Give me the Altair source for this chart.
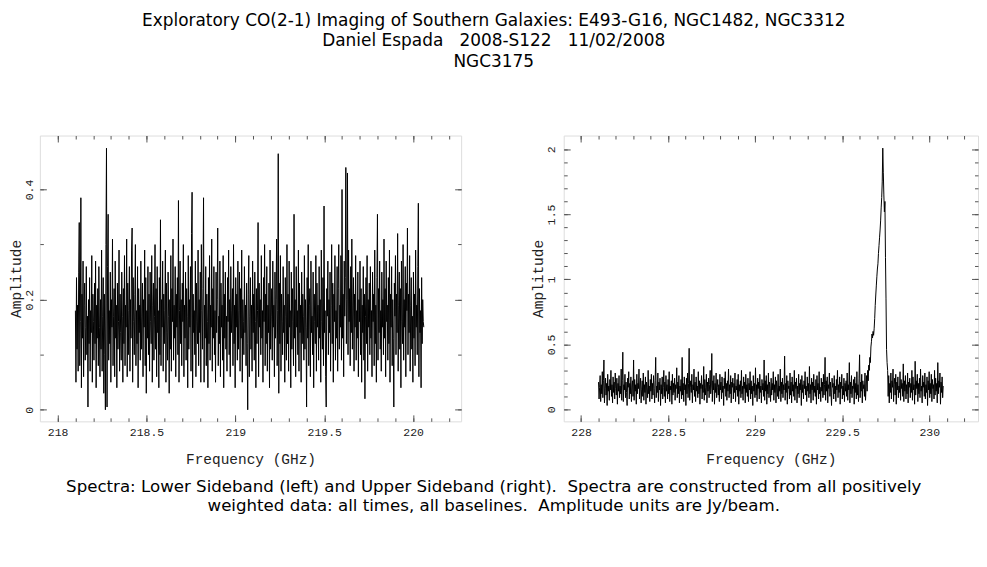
import altair as alt
import pandas as pd

# ---------------- data ----------------
LSB_START, LSB_END = 218.10, 220.06
USB_START, USB_END = 228.10, 230.08

lsb_amp = [
    0.18, 0.05, 0.24, 0.11, 0.19, 0.07, 0.25, 0.34, 0.08, 0.16, 0.385, 0.04, 0.21, 0.13, 0.27, 0.06, 0.19, 0.23, 0.09, 0.15,
    0.26, 0.10, 0.17, 0.005, 0.20, 0.12, 0.24, 0.07, 0.18, 0.14, 0.28, 0.05, 0.21, 0.16, 0.09, 0.23, 0.12, 0.27, 0.04, 0.19,
    0.13, 0.22, 0.08, 0.26, 0.15, 0.06, 0.20, 0.11, 0.29, 0.07, 0.17, 0.24, 0.03, 0.21, 0.10, 0.00, 0.30, 0.475, 0.005, 0.26,
    0.355, 0.09, 0.18, 0.12, 0.25, 0.05, 0.20, 0.15, 0.31, 0.08, 0.17, 0.22, 0.06, 0.27, 0.13, 0.19, 0.04, 0.23, 0.11, 0.16,
    0.29, 0.07, 0.21, 0.14, 0.09, 0.25, 0.17, 0.05, 0.22, 0.12, 0.28, 0.08, 0.19, 0.15, 0.31, 0.06, 0.23, 0.10, 0.18, 0.26,
    0.07, 0.20, 0.13, 0.29, 0.33, 0.05, 0.24, 0.16, 0.10, 0.21, 0.30, 0.08, 0.18, 0.12, 0.26, 0.04, 0.22, 0.14, 0.19, 0.09,
    0.27, 0.11, 0.17, 0.23, 0.06, 0.20, 0.15, 0.29, 0.08, 0.24, 0.03, 0.18, 0.13, 0.26, 0.10, 0.21, 0.07, 0.25, 0.16, 0.12,
    0.28, 0.05, 0.19, 0.23, 0.09, 0.17, 0.30, 0.11, 0.22, 0.06, 0.26, 0.14, 0.18, 0.04, 0.24, 0.10, 0.345, 0.08, 0.20, 0.15,
    0.27, 0.07, 0.21, 0.12, 0.18, 0.29, 0.05, 0.23, 0.14, 0.09, 0.25, 0.17, 0.03, 0.20, 0.11, 0.28, 0.07, 0.22, 0.16, 0.31,
    0.09, 0.19, 0.13, 0.26, 0.06, 0.21, 0.15, 0.24, 0.10, 0.38, 0.05, 0.18, 0.27, 0.12, 0.20, 0.08, 0.23, 0.16, 0.30, 0.06,
    0.19, 0.13, 0.25, 0.09, 0.22, 0.17, 0.04, 0.28, 0.11, 0.20, 0.15, 0.26, 0.07, 0.32, 0.395, 0.04, 0.21, 0.14, 0.18, 0.10,
    0.27, 0.06, 0.23, 0.16, 0.12, 0.29, 0.08, 0.20, 0.14, 0.25, 0.05, 0.30, 0.18, 0.11, 0.22, 0.385, 0.05, 0.19, 0.13, 0.26,
    0.08, 0.21, 0.16, 0.04, 0.24, 0.12, 0.28, 0.09, 0.19, 0.15, 0.31, 0.07, 0.22, 0.13, 0.26, 0.10, 0.18, 0.05, 0.25, 0.14,
    0.20, 0.33, 0.08, 0.17, 0.12, 0.27, 0.06, 0.23, 0.15, 0.19, 0.09, 0.28, 0.04, 0.21, 0.13, 0.25, 0.11, 0.17, 0.07, 0.24,
    0.16, 0.29, 0.10, 0.20, 0.06, 0.26, 0.14, 0.18, 0.22, 0.08, 0.30, 0.12, 0.19, 0.04, 0.24, 0.15, 0.21, 0.09, 0.27, 0.11,
    0.18, 0.25, 0.07, 0.22, 0.13, 0.29, 0.05, 0.20, 0.16, 0.10, 0.26, 0.14, 0.19, 0.08, 0.23, 0.12, 0.00, 0.21, 0.28, 0.06,
    0.17, 0.24, 0.11, 0.19, 0.07, 0.27, 0.14, 0.21, 0.09, 0.25, 0.16, 0.04, 0.22, 0.12, 0.18, 0.34, 0.06, 0.23, 0.15, 0.20,
    0.10, 0.28, 0.13, 0.18, 0.05, 0.24, 0.16, 0.30, 0.08, 0.21, 0.12, 0.26, 0.07, 0.19, 0.14, 0.23, 0.04, 0.29, 0.11, 0.17,
    0.22, 0.09, 0.27, 0.15, 0.19, 0.06, 0.25, 0.13, 0.20, 0.31, 0.08, 0.18, 0.465, 0.03, 0.23, 0.12, 0.28, 0.07, 0.21, 0.16,
    0.10, 0.26, 0.14, 0.19, 0.05, 0.24, 0.17, 0.09, 0.30, 0.12, 0.21, 0.07, 0.27, 0.15, 0.18, 0.04, 0.25, 0.11, 0.22, 0.16,
    0.08, 0.355, 0.13, 0.20, 0.06, 0.26, 0.15, 0.18, 0.10, 0.29, 0.07, 0.23, 0.14, 0.19, 0.05, 0.25, 0.12, 0.21, 0.17, 0.09,
    0.28, 0.11, 0.20, 0.15, 0.005, 0.24, 0.13, 0.30, 0.08, 0.19, 0.22, 0.06, 0.27, 0.14, 0.17, 0.10, 0.25, 0.04, 0.21, 0.16,
    0.12, 0.28, 0.07, 0.23, 0.15, 0.19, 0.09, 0.26, 0.13, 0.20, 0.05, 0.29, 0.16, 0.11, 0.24, 0.08, 0.37, 0.14, 0.18, 0.06,
    0.005, 0.22, 0.17, 0.27, 0.10, 0.20, 0.14, 0.25, 0.07, 0.19, 0.30, 0.12, 0.23, 0.05, 0.21, 0.16, 0.28, 0.09, 0.18, 0.13,
    0.26, 0.07, 0.22, 0.30, 0.11, 0.19, 0.15, 0.28, 0.09, 0.40, 0.13, 0.21, 0.06, 0.27, 0.17, 0.24, 0.44, 0.12, 0.20, 0.43,
    0.10, 0.29, 0.16, 0.22, 0.08, 0.26, 0.14, 0.31, 0.11, 0.19, 0.24, 0.07, 0.21, 0.15, 0.28, 0.09, 0.18, 0.13, 0.25, 0.06,
    0.20, 0.16, 0.27, 0.10, 0.22, 0.05, 0.19, 0.14, 0.26, 0.09, 0.21, 0.02, 0.17, 0.24, 0.12, 0.28, 0.07, 0.20, 0.15, 0.23,
    0.10, 0.26, 0.13, 0.18, 0.06, 0.25, 0.16, 0.21, 0.08, 0.29, 0.12, 0.19, 0.05, 0.24, 0.355, 0.09, 0.22, 0.14, 0.27, 0.11,
    0.18, 0.07, 0.25, 0.15, 0.20, 0.10, 0.31, 0.13, 0.22, 0.06, 0.27, 0.16, 0.19, 0.09, 0.24, 0.12, 0.29, 0.05, 0.21, 0.15,
    0.26, 0.08, 0.20, 0.13, 0.005, 0.23, 0.17, 0.28, 0.10, 0.21, 0.14, 0.32, 0.07, 0.19, 0.25, 0.11, 0.22, 0.04, 0.27, 0.16,
    0.12, 0.30, 0.09, 0.20, 0.15, 0.26, 0.06, 0.23, 0.18, 0.33, 0.10, 0.21, 0.14, 0.28, 0.07, 0.19, 0.24, 0.11, 0.17, 0.05,
    0.25, 0.13, 0.21, 0.08, 0.29, 0.15, 0.19, 0.10, 0.26, 0.375, 0.06, 0.22, 0.14, 0.18, 0.04, 0.24, 0.12, 0.20, 0.16, 0.15,
]

usb_amp = [
    0.21, 0.08, 0.17, 0.26, 0.06, 0.19, 0.12, 0.29, 0.09, 0.22, 0.38, 0.05, 0.16, 0.24, 0.11, 0.20, 0.03, 0.27, 0.14, 0.18,
    0.07, 0.23, 0.15, 0.30, 0.10, 0.19, 0.05, 0.25, 0.13, 0.21, 0.08, 0.28, 0.16, 0.11, 0.24, 0.04, 0.20, 0.14, 0.26, 0.09,
    0.18, 0.12, 0.31, 0.07, 0.22, 0.44, 0.06, 0.19, 0.15, 0.27, 0.09, 0.21, 0.13, 0.03, 0.24, 0.17, 0.29, 0.08, 0.20, 0.12,
    0.25, 0.06, 0.18, 0.22, 0.10, 0.38, 0.07, 0.23, 0.14, 0.19, 0.04, 0.27, 0.12, 0.20, 0.16, 0.31, 0.08, 0.18, 0.24, 0.05,
    0.15, 0.22, 0.10, 0.28, 0.07, 0.19, 0.13, 0.25, 0.04, 0.21, 0.17, 0.09, 0.30, 0.12, 0.18, 0.06, 0.23, 0.14, 0.27, 0.08,
    0.20, 0.11, 0.26, 0.16, 0.05, 0.22, 0.40, 0.09, 0.18, 0.13, 0.28, 0.06, 0.21, 0.15, 0.24, 0.03, 0.19, 0.12, 0.25, 0.08,
    0.17, 0.30, 0.10, 0.21, 0.05, 0.26, 0.14, 0.19, 0.08, 0.23, 0.12, 0.29, 0.06, 0.18, 0.15, 0.22, 0.04, 0.27, 0.11, 0.20,
    0.13, 0.24, 0.07, 0.19, 0.16, 0.32, 0.09, 0.21, 0.12, 0.26, 0.05, 0.18, 0.14, 0.23, 0.08, 0.40, 0.11, 0.20, 0.06, 0.25,
    0.15, 0.19, 0.03, 0.24, 0.12, 0.28, 0.09, 0.20, 0.47, 0.07, 0.17, 0.22, 0.13, 0.27, 0.05, 0.19, 0.15, 0.31, 0.10, 0.21,
    0.06, 0.25, 0.14, 0.18, 0.09, 0.29, 0.12, 0.22, 0.04, 0.20, 0.16, 0.26, 0.08, 0.19, 0.13, 0.33, 0.07, 0.23, 0.11, 0.17,
    0.27, 0.05, 0.21, 0.14, 0.24, 0.09, 0.19, 0.30, 0.12, 0.18, 0.43, 0.06, 0.22, 0.15, 0.26, 0.04, 0.20, 0.13, 0.28, 0.09,
    0.17, 0.23, 0.11, 0.19, 0.06, 0.27, 0.15, 0.21, 0.08, 0.25, 0.13, 0.18, 0.03, 0.24, 0.16, 0.29, 0.10, 0.20, 0.07, 0.22,
    0.14, 0.31, 0.09, 0.19, 0.12, 0.26, 0.05, 0.21, 0.17, 0.24, 0.08, 0.20, 0.13, 0.28, 0.06, 0.18, 0.15, 0.23, 0.10, 0.27,
    0.04, 0.19, 0.14, 0.22, 0.09, 0.30, 0.12, 0.18, 0.07, 0.25, 0.16, 0.21, 0.05, 0.27, 0.13, 0.19, 0.10, 0.24, 0.06, 0.20,
    0.15, 0.29, 0.08, 0.22, 0.12, 0.18, 0.03, 0.26, 0.14, 0.20, 0.09, 0.32, 0.11, 0.19, 0.06, 0.24, 0.16, 0.21, 0.08, 0.27,
    0.13, 0.18, 0.05, 0.23, 0.15, 0.20, 0.10, 0.38, 0.07, 0.22, 0.14, 0.26, 0.04, 0.19, 0.12, 0.28, 0.09, 0.21, 0.16, 0.06,
    0.24, 0.11, 0.20, 0.15, 0.29, 0.07, 0.19, 0.13, 0.25, 0.05, 0.22, 0.17, 0.10, 0.27, 0.08, 0.18, 0.14, 0.31, 0.06, 0.21,
    0.12, 0.24, 0.09, 0.19, 0.15, 0.41, 0.07, 0.20, 0.13, 0.26, 0.04, 0.22, 0.16, 0.18, 0.08, 0.28, 0.11, 0.21, 0.05, 0.25,
    0.14, 0.19, 0.10, 0.30, 0.07, 0.21, 0.16, 0.24, 0.05, 0.18, 0.12, 0.27, 0.09, 0.20, 0.15, 0.23, 0.03, 0.26, 0.13, 0.19,
    0.08, 0.22, 0.16, 0.29, 0.11, 0.18, 0.06, 0.25, 0.14, 0.20, 0.09, 0.33, 0.12, 0.19, 0.05, 0.24, 0.15, 0.21, 0.07, 0.27,
    0.13, 0.18, 0.10, 0.23, 0.04, 0.26, 0.15, 0.20, 0.08, 0.29, 0.12, 0.17, 0.06, 0.24, 0.14, 0.21, 0.09, 0.27, 0.11, 0.19,
    0.40, 0.07, 0.22, 0.14, 0.25, 0.05, 0.19, 0.16, 0.28, 0.10, 0.21, 0.13, 0.03, 0.24, 0.17, 0.20, 0.08, 0.26, 0.12, 0.18,
    0.06, 0.23, 0.15, 0.30, 0.09, 0.19, 0.13, 0.25, 0.04, 0.21, 0.16, 0.27, 0.08, 0.18, 0.11, 0.24, 0.06, 0.20, 0.14, 0.22,
    0.10, 0.28, 0.07, 0.19, 0.15, 0.36, 0.05, 0.21, 0.12, 0.26, 0.09, 0.18, 0.16, 0.23, 0.04, 0.25, 0.13, 0.20, 0.08, 0.29,
    0.11, 0.19, 0.06, 0.24, 0.42, 0.09, 0.21, 0.14, 0.27, 0.05, 0.22, 0.16, 0.19, 0.10, 0.28, 0.07, 0.18, 0.26, 0.14, 0.30,
    0.22, 0.34, 0.30, 0.40, 0.36, 0.48, 0.52, 0.58, 0.55, 0.60, 0.57, 0.62, 0.70, 0.80, 0.88, 0.95, 1.02, 1.08, 1.12, 1.20,
    1.26, 1.32, 1.38, 1.45, 1.55, 1.63, 1.75, 2.01, 1.82, 1.65, 1.52, 1.60, 1.17, 0.85, 0.46, 0.36, 0.30, 0.10, 0.26, 0.05,
    0.20, 0.13, 0.28, 0.08, 0.22, 0.17, 0.31, 0.06, 0.19, 0.24, 0.11, 0.27, 0.04, 0.21, 0.15, 0.25, 0.09, 0.18, 0.13, 0.29,
    0.07, 0.23, 0.16, 0.20, 0.10, 0.35, 0.06, 0.22, 0.14, 0.26, 0.08, 0.19, 0.12, 0.28, 0.05, 0.21, 0.17, 0.24, 0.09, 0.20,
    0.13, 0.30, 0.07, 0.25, 0.15, 0.19, 0.04, 0.37, 0.11, 0.22, 0.16, 0.27, 0.06, 0.20, 0.12, 0.24, 0.09, 0.31, 0.14, 0.18,
    0.05, 0.26, 0.17, 0.21, 0.10, 0.28, 0.08, 0.19, 0.13, 0.25, 0.03, 0.22, 0.15, 0.29, 0.09, 0.20, 0.12, 0.27, 0.06, 0.23,
    0.16, 0.19, 0.08, 0.30, 0.11, 0.24, 0.14, 0.20, 0.05, 0.36, 0.12, 0.22, 0.17, 0.28, 0.04, 0.21, 0.13, 0.25, 0.09, 0.18,
]

NB = "\u00a0"
title_lines = [
    "Exploratory CO(2-1) Imaging of Southern Galaxies: E493-G16, NGC1482, NGC3312",
    "Daniel Espada" + NB * 2 + " 2008-S122" + NB * 2 + " 11/02/2008",
    "NGC3175",
]
caption_lines = [
    "Spectra: Lower Sideband (left) and Upper Sideband (right)." + NB
    + " Spectra are constructed from all positively",
    "weighted data: all times, all baselines." + NB + " Amplitude units are Jy/beam.",
]

lsb_x_major = [218, 218.5, 219, 219.5, 220]
lsb_x_minor = [218.0, 218.1, 218.2, 218.3, 218.4, 218.5, 218.6, 218.7, 218.8, 218.9,
               219.0, 219.1, 219.2, 219.3, 219.4, 219.5, 219.6, 219.7, 219.8, 219.9,
               220.0, 220.1, 220.2]
lsb_y_major = [0, 0.2, 0.4]
lsb_y_minor = [0, 0.1, 0.2, 0.3, 0.4]
usb_x_major = [228, 228.5, 229, 229.5, 230]
usb_x_minor = [228.0, 228.1, 228.2, 228.3, 228.4, 228.5, 228.6, 228.7, 228.8, 228.9,
               229.0, 229.1, 229.2, 229.3, 229.4, 229.5, 229.6, 229.7, 229.8, 229.9,
               230.0, 230.1, 230.2]
usb_y_major = [0, 0.5, 1, 1.5, 2]
usb_y_minor = [0, 0.1, 0.2, 0.3, 0.4, 0.5, 0.6, 0.7, 0.8, 0.9, 1.0,
               1.1, 1.2, 1.3, 1.4, 1.5, 1.6, 1.7, 1.8, 1.9, 2.0]


def channels(start, end, amps):
    n = len(amps)
    step = (end - start) / (n - 1)
    return pd.DataFrame({"f": [start + i * step for i in range(n)], "a": amps})


lsb = channels(LSB_START, LSB_END, lsb_amp)
usb = channels(USB_START, USB_END, usb_amp)

# ---------------- styling ----------------
W_L, W_R, H = 423, 416, 287
MONO = "Liberation Mono"
SANS = "DejaVu Sans"
TXT = "#222222"
FRAME = "#555555"
MAJ, MIN = 6.5, 3.5


def label_axis_x(values, title):
    return alt.Axis(values=values, format="~g", title=title, orient="bottom",
                    ticks=False, domain=False, grid=False, labelPadding=5,
                    titlePadding=15, labelFlush=False, labelOverlap=False,
                    labelFont=MONO, labelFontSize=11.5, labelColor=TXT,
                    titleFont=MONO, titleFontSize=14.5, titleFontWeight="normal",
                    titleColor=TXT)


def label_axis_y(values, pad):
    return alt.Axis(values=values, format="~g", title="Amplitude", orient="left",
                    ticks=False, domain=False, grid=False, labelPadding=pad,
                    titlePadding=0, labelFlush=False, labelOverlap=False,
                    labelAngle=270, labelAlign="center", labelBaseline="bottom",
                    labelFont=MONO, labelFontSize=11.5, labelColor=TXT,
                    titleFont=MONO, titleFontSize=14.5, titleFontWeight="normal",
                    titleColor=TXT)


def tick_axis(values, orient, offset, size):
    return alt.Axis(values=values, orient=orient, offset=offset, labels=False,
                    title=None, ticks=True, tickSize=size, tickColor=FRAME,
                    tickWidth=1, domain=False, grid=False)


def panel(df, W, xdom, ydom, xmaj, xmin, ymaj, ymin, ypad):
    xs = alt.Scale(domain=xdom, nice=False, zero=False)
    ys = alt.Scale(domain=ydom, nice=False, zero=False)
    base = alt.Chart(df)
    line = base.mark_line(color="black", strokeWidth=1.0, clip=True).encode(
        x=alt.X("f:Q", scale=xs, axis=label_axis_x(xmaj, "Frequency (GHz)")),
        y=alt.Y("a:Q", scale=ys, axis=label_axis_y(ymaj, ypad)),
    )
    layers = [line]
    # inward ticks: bottom/left (major, minor), top/right (major, minor)
    specs = [
        ("top", -H, xmaj, MAJ, "right", -W, ymaj, MAJ),
        ("top", -H, xmin, MIN, "right", -W, ymin, MIN),
        ("bottom", -H, xmaj, MAJ, "left", -W, ymaj, MAJ),
        ("bottom", -H, xmin, MIN, "left", -W, ymin, MIN),
    ]
    for xo, xoff, xv, xsz, yo, yoff, yv, ysz in specs:
        layers.append(
            base.mark_line(opacity=0).encode(
                x=alt.X("f:Q", scale=xs, axis=tick_axis(xv, xo, xoff, xsz)),
                y=alt.Y("a:Q", scale=ys, axis=tick_axis(yv, yo, yoff, ysz)),
            )
        )
    return alt.layer(*layers).resolve_axis(x="independent", y="independent").properties(
        width=W, height=H)


left = panel(lsb, W_L, [217.9, 220.27], [-0.021, 0.498],
             lsb_x_major, lsb_x_minor, lsb_y_major, lsb_y_minor, 5)
right = panel(usb, W_R, [227.9, 230.28], [-0.092, 2.107],
              usb_x_major, usb_x_minor, usb_y_major, usb_y_minor, 7)

inner = alt.hconcat(left, right, spacing=68).properties(
    title=alt.TitleParams(text=caption_lines, orient="bottom", anchor="middle",
                          font=SANS, fontSize=16.7, fontWeight="normal",
                          color="black", lineHeight=20, offset=12)
)

chart = alt.vconcat(inner).properties(
    title=alt.TitleParams(text=title_lines, anchor="middle", font=SANS,
                          fontSize=17, fontWeight="normal", color="black",
                          lineHeight=20.5, offset=64),
    padding={"top": 3, "left": 0, "right": 0, "bottom": 0},
).configure_view(stroke=FRAME, strokeWidth=1).configure(background="white")

chart.save("out.html", embed_options={"renderer": "svg", "actions": False})
